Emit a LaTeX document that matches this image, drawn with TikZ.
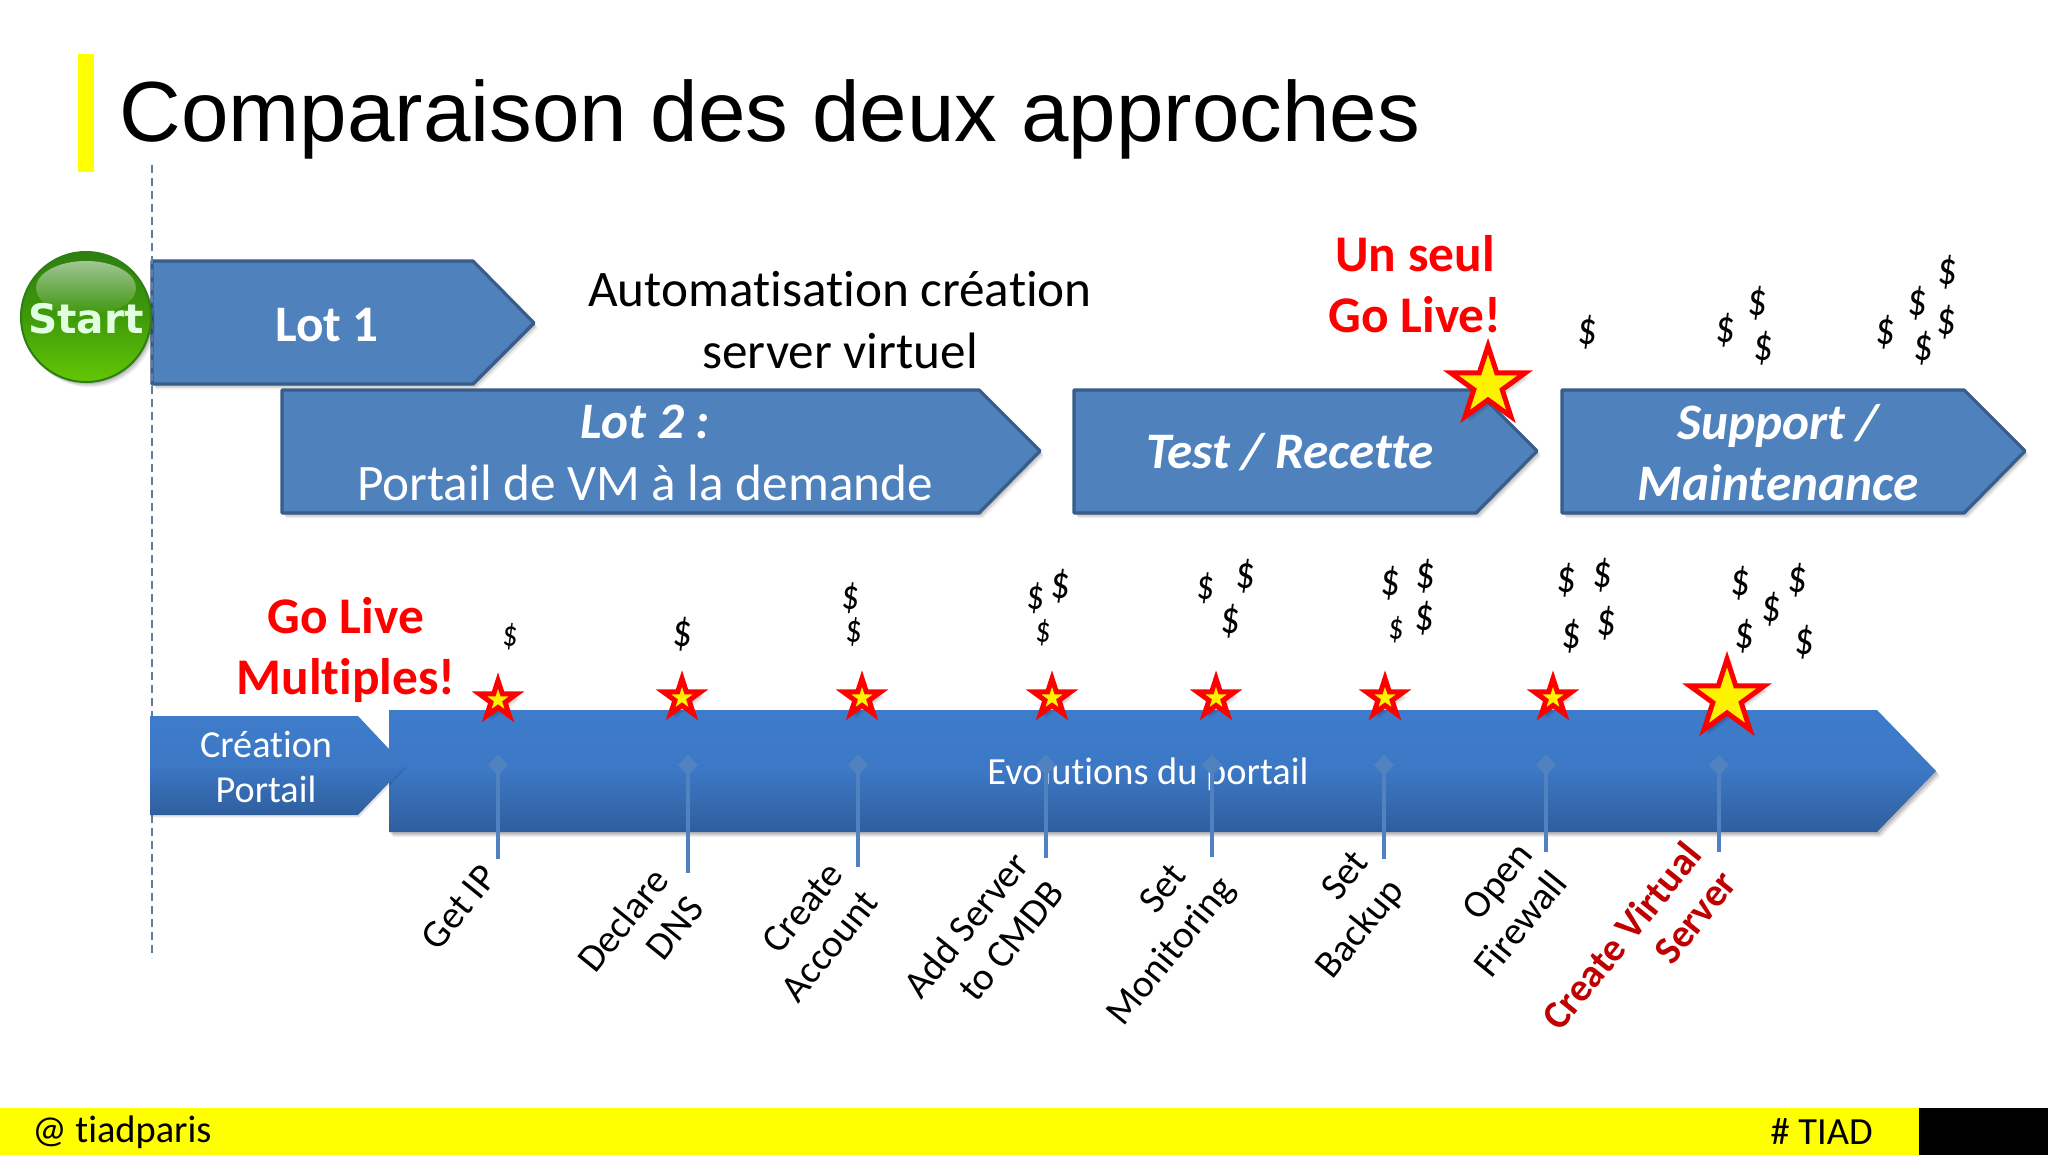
\documentclass[tikz,border=0pt]{standalone}
\usepackage{fontspec}
\setmainfont[Ligatures=NoCommon]{Carlito}
\newfontfamily\arialf{Liberation Sans}
\newfontfamily\startf{DejaVu Sans}
\usetikzlibrary{shapes.geometric,shadows,fadings}
\definecolor{lotfill}{HTML}{4F81BD}
\definecolor{lotline}{HTML}{385D8A}
\definecolor{bartop}{HTML}{3E7CCB}
\definecolor{barbot}{HTML}{2F5E9E}
\definecolor{pinc}{HTML}{4F82BE}
\definecolor{tiady}{HTML}{FFFF00}
\definecolor{sdark}{HTML}{2E7F12}
\definecolor{smid}{HTML}{3F9A0A}
\definecolor{slight}{HTML}{63C704}
\definecolor{darkred}{HTML}{C00000}
\newcommand{\fs}[1]{\fontsize{#1}{#1}\selectfont}
\tikzset{
  softshadow/.style={
    general shadow={shadow xshift=.8pt,shadow yshift=-1pt,fill=black,opacity=.12},
    general shadow={shadow xshift=1.4pt,shadow yshift=-1.8pt,fill=black,opacity=.10},
    general shadow={shadow xshift=2pt,shadow yshift=-2.6pt,fill=black,opacity=.07}},
  lot/.style={fill=lotfill,draw=lotline,line width=1.6pt,line join=round,softshadow},
  bar/.style={top color=bartop,bottom color=barbot,middle color=bartop!85!barbot,softshadow},
  lbl/.style={inner sep=0pt,text=white,align=center},
  starbase/.style={star,star points=5,star point ratio=2.618,inner sep=0pt,fill=yellow,draw=red,line width=2.5pt,miter limit=10,softshadow},
  smallstar/.style={starbase,minimum size=19.5pt},
  bigstar/.style={starbase,minimum size=39pt},
  dol/.style={inner sep=0pt,rotate=-4,xscale=.82,font=\fs{#1}},
  dol/.default=23,
  pin/.style={draw=pinc,line width=2.2pt},
  pinhead/.style={diamond,fill=pinc,inner sep=0pt,minimum size=10.5pt},
  tag/.style={inner sep=0pt,rotate=51,font=\fontsize{19.5}{22.5}\selectfont,align=right},
  gl/.style={inner sep=0pt,text=red,font=\fs{25.7}\bfseries,align=center},
}
\begin{document}
\begin{tikzpicture}[x=0.5pt,y=-0.5pt]
\useasboundingbox (0,0) rectangle (2048,1155);
\fill[white] (0,0) rectangle (2048,1155);
% title
\fill[tiady] (78,54) rectangle (94,172);
\node[anchor=west,inner sep=0pt] (title) at (119,119) {\arialf\fs{42.7}Comparaison des deux approches};
% top lots
\draw[lot] (152,261) -- (473,261) -- (534,323) -- (473,384) -- (152,384) -- cycle;
\draw[lot] (282,390) -- (979,390) -- (1040,451) -- (979,513) -- (282,513) -- cycle;
\draw[lot] (1074,390) -- (1476,390) -- (1537,451) -- (1476,513) -- (1074,513) -- cycle;
\draw[lot] (1562,390) -- (1964,390) -- (2025,451) -- (1964,513) -- (1562,513) -- cycle;
% dashed line
\coordinate (dashA) at (152,165);
\coordinate (dashB) at (152,958);
\draw[lotline!80,line width=.7pt,dash pattern=on 4pt off 2.5pt] (dashA) -- (dashB);
% start
\node[circle,minimum size=65pt,inner sep=0pt,draw=sdark,line width=1pt,top color=sdark,bottom color=slight,middle color=smid,softshadow] (start) at (86,317) {};
\fill[white,opacity=.55,path fading=south] (86,288) ellipse (50 and 27);
\node[inner sep=0pt,text=white!88!green] (starttxt) at (86,319) {\startf\bfseries\fs{20.3}Start};
\node[lbl,font=\fs{25.6}\bfseries] (lot1) at (327,325) {Lot 1};
\node[lbl,font=\fs{25.6}] (lot2) at (645,453) {{\bfseries\itshape Lot 2 :}\\[5pt]Portail de VM à la demande};
\node[lbl,font=\fs{25.6}\bfseries\itshape] (test) at (1290,452) {Test / Recette};
\node[lbl,font=\fs{25.6}\bfseries\itshape] (supp) at (1778,453) {Support /\\[5pt]Maintenance};
\node[inner sep=0pt,align=center,font=\fs{25.6}] (auto) at (840,320) {Automatisation création\\[5pt]server virtuel};
\node[gl] (seul) at (1415,284) {Un seul\\[5pt]Go Live!};
\node[bigstar] (s0) at (1488,385) {};
% top dollars
\foreach \n/\x/\y in {a/1588/332,b/1726/330,c/1758/303,d/1764/348,e/1886/332,f/1918/303,g/1948/272,h/1947/322,i/1924/348}
  \node[dol] (top\n) at (\x,\y) {\$};
% bottom arrows
\draw[draw=none,bar] (389,710) -- (1877,710) -- (1936,771) -- (1877,832) -- (389,832) -- cycle;
\draw[draw=none,top color=bartop,bottom color=barbot,middle color=bartop!85!barbot,
  general shadow={shadow xshift=.5pt,shadow yshift=-1.2pt,fill=black,opacity=.10}] (150,716) -- (358,716) -- (405,766) -- (358,815) -- (150,815) -- cycle;
\node[lbl,font=\fs{19.1}] (crea) at (266,767) {Création\\[3.5pt]Portail};
\node[lbl,font=\fs{19.2}] (evo) at (1148,774) {Evolutions du portail};
\node[gl] (gom) at (346,650) {Go Live\\[5pt]Multiples!};
% pins
\foreach \n/\x/\y in {a/498/859,b/688/873,c/858/867,d/1046/858,e/1212/857,f/1384/859,g/1546/852,h/1719/852}{
  \node[pinhead] (ph\n) at (\x,765) {};
  \coordinate (pe\n) at (\x,\y);
  \draw[pin] (ph\n.center) -- (pe\n);
}
% stars
\foreach \n/\x/\y in {a/498/700,b/682/698,c/862/698,d/1052/698,e/1216/698,f/1385/698,g/1553/698}
  \node[smallstar] (st\n) at (\x,\y) {};
\node[bigstar] (st8) at (1727,698) {};
% dollars bottom
\foreach \n/\x/\y/\s in {a/511/637/18,b/683/634/23,c/851/598/21,d/854/632/19.5,e/1036/598/21,f/1061/586/23,g/1044/633/18,h/1206/588/21,i/1246/576/23,j/1231/621/23,k/1391/583/23,l/1426/576/23,m/1397/630/18,n/1425/618/23,o/1567/580/23,p/1603/575/23,q/1572/636/23,r/1607/623/23,s/1741/583/23,t/1798/580/23,u/1772/609/23,v/1745/636/23,w/1805/642/23}
  \node[dol=\s] (low\n) at (\x,\y) {\$};
% tags
\node[tag] (t1) at (459,907) {Get IP};
\node[tag] (t2) at (640,934) {Declare\\DNS};
\node[tag] (t3) at (812,932) {Create\\Account};
\node[tag] (t4) at (983,939) {Add Server\\to CMDB};
\node[tag] (t5) at (1155,938) {Set\hspace*{10pt}\\Monitoring};
\node[tag] (t6) at (1344,916) {Set\\Backup};
\node[tag] (t7) at (1503,910) {Open\\Firewall};
\node[tag,font=\fontsize{19.8}{22.5}\selectfont\bfseries,text=darkred] (t8) at (1639,950) {Create Virtual\\Server};
% footer
\fill[tiady] (0,1108) rectangle (1919,1155);
\fill[black] (1919,1108) rectangle (2048,1155);
\node[anchor=west,inner sep=0pt,font=\fs{19.2}] (f1) at (32,1132) {@ tiadparis};
\node[anchor=east,inner sep=0pt,font=\fs{19.2}] (f2) at (1873,1132) {\# TIAD};
\end{tikzpicture}
\end{document}
